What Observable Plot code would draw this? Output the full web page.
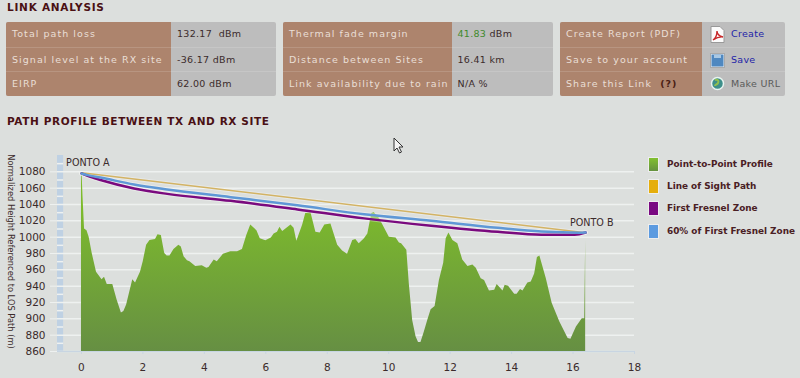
<!DOCTYPE html>
<html><head><meta charset="utf-8">
<script src="https://cdn.jsdelivr.net/npm/d3@7"></script>
<script src="https://cdn.jsdelivr.net/npm/@observablehq/plot@0.6"></script>
<style>
html,body{margin:0;padding:0;background:#dcdfdd;width:800px;height:378px;overflow:hidden;font-family:"DejaVu Sans",sans-serif}
#page{position:relative;width:800px;height:378px}
.h{position:absolute;left:7px;font-weight:bold;font-size:10.5px;letter-spacing:.75px;color:#4a1014;white-space:nowrap}
.panel{position:absolute;top:22px;height:73.5px;background:#bdbdbd;border-radius:2px;overflow:hidden}
.lab{position:absolute;left:0;top:0;bottom:0;background:#ad846d}
.row{position:absolute;left:0;right:0;font-size:9.5px;line-height:24px;height:24px;white-space:nowrap}
.row+.row{border-top:1px solid rgba(255,255,255,.14)}
.row span.l{position:absolute;left:6px;color:#eadfd6;letter-spacing:1.05px}
.row span.v{position:absolute;color:#3b2b2b;letter-spacing:.3px}
.leg{position:absolute;left:667px;font-weight:bold;font-size:8.9px;color:#4a2024;white-space:nowrap}
.sw{position:absolute;left:648px;width:9px;height:13px;border:.5px solid #eee}
#chart{position:absolute;left:0;top:150px}
.ic{position:absolute}
</style></head><body><div id="page">
<div class="h" style="top:1px">LINK ANALYSIS</div>
<div class="h" style="top:115px;letter-spacing:.6px">PATH PROFILE BETWEEN TX AND RX SITE</div>
<div id="tables"></div>
<div id="legend"></div>
<div id="chart"></div>
<svg class="ic" style="left:393px;top:137px" width="13" height="18" viewBox="0 0 13 18"><path d="M1 1v13l3-3 2.500 5 2-1-2.500-5h4z" fill="#f4f4f4" stroke="#333" stroke-width="1"/></svg>
</div>
<script>
const kmProfile = [0,0.02,0.05,0.10,0.18,0.25,0.35,0.49,0.67,0.75,0.84,1.02,1.16,1.30,1.38,1.47,1.67,1.76,1.92,2.01,2.12,2.23,2.41,2.49,2.60,2.71,2.79,2.88,3.01,3.17,3.25,3.34,3.45,3.53,3.72,3.93,4.08,4.15,4.32,4.42,4.62,4.86,5.08,5.24,5.38,5.51,5.71,5.82,6.0,6.18,6.27,6.38,6.46,6.55,6.82,6.92,7.01,7.20,7.30,7.47,7.63,7.77,7.92,8.12,8.34,8.50,8.66,8.83,8.93,9.04,9.21,9.32,9.45,9.53,9.70,10.02,10.24,10.35,10.42,10.59,10.67,10.78,10.89,10.97,11.05,11.16,11.27,11.38,11.51,11.65,11.79,11.87,11.96,12.09,12.25,12.41,12.58,12.74,12.85,13.01,13.12,13.28,13.45,13.53,13.72,13.79,13.90,14.10,14.18,14.29,14.37,14.53,14.64,14.75,14.84,14.92,15.13,15.32,15.57,15.84,15.93,16.11,16.30,16.38,16.40,16.41];
const heightProfile = [1078,1078,1050,1010,1008,1000,980,957,948,951,942,942,923,907,909,917,948,944,957,970,990,996,997,1003,1002,980,977,977,985,990,988,976,971,970,964,965,962,963,972,970,979,982,982,985,1002,1015,1008,998,995.5,999,1004,1006,1012,1007,1015,1011,995,1015,1029,1030,1006,1005,1015,1016,990,983,979,996,997,992,998,1004,1029,1030,1023,1000,999,993,992,984,943,898,878,871,871,884,898,911,915,947,968,998,1005,996,992,972,964,966,962,949,947,934,935,942,934,941,940,930,930,936,934,944,945,955,975,977,949,919,896,876,875,890,900,900,960,996];
const kmLos = [0,16.41];
const heightLos = [1079,1005.5];
const kmZone = [0,0.2,0.62,1.71,2.79,4.86,7.03,9.2,11.38,13.55,14.97,15.9,16.2,16.41];
const heightFresnel = [1078,1075,1070,1059.6,1053,1044.5,1034,1023,1014,1006.5,1003,1003,1003.7,1005.7];
const heightFresnel60 = [1078,1076,1073,1064.5,1058.4,1049,1039,1028,1020,1011.4,1007,1005.7,1005.5,1005.7];
const yTicks = [860,880,900,920,940,960,980,1000,1020,1040,1060,1080];
const bandTicks = [870,890,910,930,950,970,990,1010,1030,1050,1070,1090];
const xTicks = [0,2,4,6,8,10,12,14,16,18];
const yTitle = "Normalized Height Referenced to LOS Path (m)";
const legendNames = ["Point-to-Point Profile","Line of Sight Path","First Fresnel Zone","60% of First Fresnel Zone"];
const legendColors = ["#74aa35","#e5ae0c","#7a0a82","#5c9be0"];
const panelRows = [
 [["Total path loss","132.17  dBm"],["Signal level at the RX site","-36.17 dBm"],["EIRP","62.00 dBm"]],
 [["Thermal fade margin","<span style='color:#3f8a2c'>41.83</span> dBm"],["Distance between Sites","16.41 km"],["Link availability due to rain","N/A %"]],
 [["Create Report (PDF)","Create"],["Save to your account","Save"],["Share this Link &nbsp;<b style='color:#4a2014'>(?)</b>","Make URL"]]
];

const pos=[{l:6,w:270,s:165},{l:283,w:270,s:168.500},{l:560,w:225,s:142}];
const icons=[
`<svg class="ic" style="left:150px;top:4px" width="15" height="17"><path d="M1 .5h9l4 4v12H1z" fill="#fbfbfb" stroke="#999"/><path d="M3 14c3-2 4-6 4-9 0 3 2 5 6 6-4-.5-7 1-10 3z" fill="none" stroke="#c8282a" stroke-width="1.400"/></svg>`,
`<svg class="ic" style="left:150px;top:5px" width="15" height="15"><rect x=".5" y=".5" width="14" height="14" fill="#e8eef4" stroke="#aaa"/><rect x="1.500" y="1.500" width="12" height="12" fill="#4f88c0"/><rect x="4" y="2" width="7" height="3" fill="#a9c8e4"/></svg>`,
`<svg class="ic" style="left:150px;top:4px" width="15" height="15"><circle cx="7.500" cy="7.500" r="6" fill="#3d8f8a" stroke="#e8f4f0" stroke-width="1.500"/><path d="M5 4c3-1 4 1 3 3s-3 1-3 3" stroke="#8fbf4f" stroke-width="2" fill="none"/></svg>`];
d3.select("#tables").selectAll("div.panel").data(panelRows).join("div").attr("class","panel")
 .attr("style",(d,i)=>`left:${pos[i].l}px;width:${pos[i].w}px`)
 .each(function(rows,i){
   const p=d3.select(this);
   p.append("div").attr("class","lab").style("width",pos[i].s+"px");
   rows.forEach((r,j)=>{
     const row=p.append("div").attr("class","row").style("top",[0,24.500,49][j]+"px");
     row.append("span").attr("class","l").html(r[0]);
     const vx=i==2?(pos[i].s+29):(pos[i].s+6);
     const col=i==2?(j==2?"#5a5a5a":"#2323a8"):null;
     const v=row.append("span").attr("class","v").style("left",vx+"px").html(r[1].replace("  ","&nbsp; "));
     if(col)v.style("color",col);
     if(i==2)row.node().insertAdjacentHTML("beforeend",icons[j]);
   });
 });

const swTops=[157,179,201,224];
const legend=d3.select("#legend");
legendNames.forEach((n,i)=>{
  legend.append("div").attr("class","sw").style("top",swTops[i]+"px").style("background",i==0?"linear-gradient(#82c030,#65923f)":legendColors[i]);
  legend.append("div").attr("class","leg").style("top",(swTops[i]+2)+"px").text(n);
});

const profile = kmProfile.map((k,i)=>({k,h:heightProfile[i]}));
const los = kmLos.map((k,i)=>({k,h:heightLos[i]}));
const fres = kmZone.map((k,i)=>({k,h:heightFresnel[i]}));
const fres60 = kmZone.map((k,i)=>({k,h:heightFresnel60[i]}));
const curve="monotone-x";
const plot = Plot.plot({
  width:800,height:228,marginLeft:57,marginRight:166,marginTop:5,marginBottom:27,
  style:{background:"transparent",fontFamily:"'DejaVu Sans',sans-serif",fontSize:"10px",color:"#3b2b2b"},
  x:{domain:[-0.78,18],label:null},
  y:{domain:[860,1100],label:null},
  marks:[
    Plot.rect([0],{x1:()=>-0.78,x2:()=>-0.58,y1:()=>860,y2:()=>1100,fill:"#bfd1e3"}),
    Plot.ruleY(bandTicks,{x1:()=>-0.78,x2:()=>-0.58,stroke:"#eef1f0",strokeWidth:1.500}),
    Plot.ruleY(yTicks,{stroke:"#eef1f0",strokeWidth:1.500}),
    Plot.ruleY([860],{stroke:"#c8d5e2",strokeWidth:1.500}),
    Plot.axisY({anchor:"left",ticks:yTicks,tickSize:7,tickPadding:5,stroke:"#eef1f0",label:null,fill:"#3b2b2b",fontSize:10.500,tickFormat:"d"}),
    Plot.axisX({anchor:"bottom",ticks:xTicks,tickSize:3,tickPadding:9,stroke:"#c8d5e2",label:null,fill:"#3b2b2b",fontSize:10.500}),
    Plot.areaY(profile,{x:"k",y1:()=>860,y2:"h",fill:"url(#profileFill)"}),
    Plot.line(los,{x:"k",y:"h",stroke:"#fff",strokeOpacity:.3,strokeWidth:3.500}),
    Plot.line(fres,{x:"k",y:"h",curve,stroke:"#fff",strokeOpacity:.35,strokeWidth:4.500}),
    Plot.line(fres60,{x:"k",y:"h",curve,stroke:"#fff",strokeOpacity:.35,strokeWidth:4.500}),
    Plot.line(los,{x:"k",y:"h",stroke:"#d3b364",strokeWidth:1.500}),
    Plot.line(fres,{x:"k",y:"h",curve,stroke:"#7a0a7e",strokeWidth:2.500}),
    Plot.line(fres60,{x:"k",y:"h",curve,stroke:"#5f98d6",strokeWidth:2.500}),
    Plot.text(["PONTO A"],{x:()=>-0.5,y:()=>1091,text:d=>d,textAnchor:"start",fill:"#3b2b2b",fontSize:9.600}),
    Plot.text(["PONTO B"],{x:()=>15.9,y:()=>1018,text:d=>d,textAnchor:"start",fill:"#3b2b2b",fontSize:9.600}),
    Plot.text([yTitle],{frameAnchor:"left",dx:-47,dy:-2,rotate:90,textAnchor:"middle",text:d=>d,fill:"#3b2b2b",fontSize:8.300})
  ]
});
const svg=d3.select(plot);
const g=svg.insert("defs",":first-child").append("linearGradient").attr("id","profileFill")
  .attr("gradientUnits","userSpaceOnUse").attr("x1",0).attr("x2",0).attr("y1",55).attr("y2",201);
g.append("stop").attr("offset",0).attr("stop-color","#7dbb2c");
g.append("stop").attr("offset",1).attr("stop-color","#668f43");
document.getElementById("chart").appendChild(plot);
</script></body></html>
